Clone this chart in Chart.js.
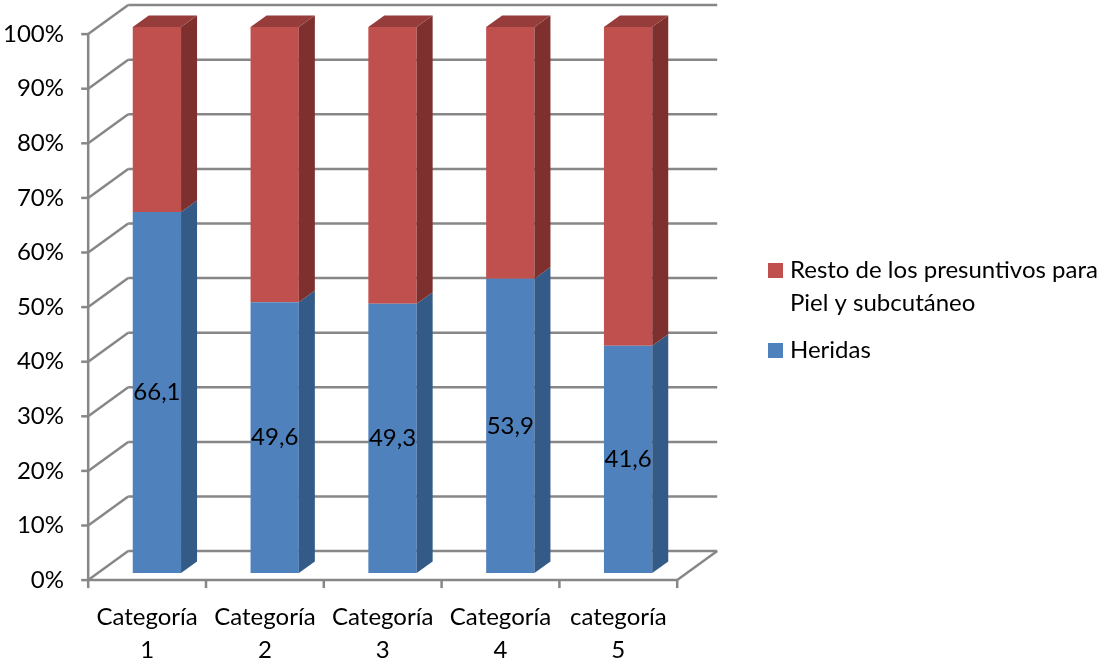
<!DOCTYPE html>
<html>
<head>
<meta charset="utf-8">
<script src="https://cdn.jsdelivr.net/npm/chart.js@4.4.1/dist/chart.umd.min.js"></script>
<style>
  html, body { margin: 0; padding: 0; background: #fff; }
</style>
</head>
<body>
<canvas id="chart" width="1108" height="661"></canvas>
<script>
const categories = [['Categoría', '1'], ['Categoría', '2'], ['Categoría', '3'], ['Categoría', '4'], ['categoría', '5']];
const heridas = [66.1, 49.6, 49.3, 53.9, 41.6];
const resto = [33.9, 50.4, 50.7, 46.1, 58.4];
const legendItems = [
  { lines: ['Resto de los presuntivos para', 'Piel y subcutáneo'], color: '#C0504D' },
  { lines: ['Heridas'], color: '#4F81BD' }
];

const FONT = 'Lato, "Noto Sans", sans-serif';
const FONT_SIZE = 24;
const GRID = '#878787';

// depth of the floor and where the columns sit inside it
const DEPTH = { x: 40, y: -29 };
const FRONT = 0.245;
const BAR_DEPTH = 0.4;
const front = { x: -FRONT * DEPTH.x, y: -FRONT * DEPTH.y };
const back = { x: (1 - FRONT) * DEPTH.x, y: (1 - FRONT) * DEPTH.y };
const barDepth = { x: BAR_DEPTH * DEPTH.x, y: BAR_DEPTH * DEPTH.y };

const sideColors = ['#345A87', '#7D302E'];
const topColor = '#963C3A';

function line(ctx, x1, y1, x2, y2) {
  ctx.beginPath();
  ctx.moveTo(x1, y1);
  ctx.lineTo(x2, y2);
  ctx.stroke();
}

function poly(ctx, pts, color) {
  ctx.beginPath();
  ctx.moveTo(pts[0][0], pts[0][1]);
  for (let i = 1; i < pts.length; i++) ctx.lineTo(pts[i][0], pts[i][1]);
  ctx.closePath();
  ctx.fillStyle = color;
  ctx.fill();
}

// Walls, floor and gridlines behind the columns
const frame3d = {
  id: 'frame3d',
  beforeDatasetsDraw(chart) {
    const { ctx, chartArea } = chart;
    const { left, right } = chartArea;
    const y = chart.scales.y;
    ctx.save();
    ctx.strokeStyle = GRID;
    ctx.lineWidth = 2.5;
    for (let v = 0; v <= 100; v += 10) {
      const p = y.getPixelForValue(v);
      const fx = left + front.x, fy = p + front.y;
      const bx = left + back.x, by = p + back.y;
      line(ctx, fx - 7, fy, fx, fy);
      line(ctx, fx, fy, bx, by);
      line(ctx, bx, by, right + back.x, by);
    }
    const y0 = y.getPixelForValue(0);
    const y100 = y.getPixelForValue(100);
    const fl = left + front.x, fr = right + front.x;
    line(ctx, fl, y100 + front.y, fl, y0 + front.y);
    line(ctx, fl, y0 + front.y, fr, y0 + front.y);
    line(ctx, fr, y0 + front.y, right + back.x, y0 + back.y);
    const step = (right - left) / categories.length;
    for (let i = 0; i <= categories.length; i++) {
      const x = fl + i * step;
      line(ctx, x, y0 + front.y, x, y0 + front.y + 8);
    }
    ctx.restore();
  },
  afterDatasetsDraw(chart) {
    const { ctx } = chart;
    const last = chart.data.datasets.length - 1;
    ctx.save();
    chart.data.datasets.forEach((ds, di) => {
      const meta = chart.getDatasetMeta(di);
      meta.data.forEach((bar) => {
        const { x, y, base, width } = bar.getProps(['x', 'y', 'base', 'width'], true);
        const l = x - width / 2, r = x + width / 2;
        const top = Math.min(y, base), bottom = Math.max(y, base);
        poly(ctx, [[r, top], [r + barDepth.x, top + barDepth.y], [r + barDepth.x, bottom + barDepth.y], [r, bottom]], sideColors[di]);
        if (di === last) {
          poly(ctx, [[l, top], [l + barDepth.x, top + barDepth.y], [r + barDepth.x, top + barDepth.y], [r, top]], topColor);
        }
      });
    });

    // value labels on the Heridas segment
    ctx.font = FONT_SIZE + 'px ' + FONT;
    ctx.fillStyle = '#000';
    ctx.textAlign = 'center';
    ctx.textBaseline = 'middle';
    chart.getDatasetMeta(0).data.forEach((bar, i) => {
      const { x, y, base } = bar.getProps(['x', 'y', 'base'], true);
      ctx.fillText(heridas[i].toFixed(1).replace('.', ','), x, (y + base) / 2);
    });
    ctx.restore();
  },
  afterDraw(chart) {
    const { ctx } = chart;
    ctx.save();
    ctx.font = FONT_SIZE + 'px ' + FONT;
    ctx.textAlign = 'left';
    ctx.textBaseline = 'middle';
    const rows = [[270, 303], [350]];
    legendItems.forEach((item, i) => {
      const ys = rows[i];
      ctx.fillStyle = item.color;
      ctx.fillRect(768, ys[0] - 7, 15, 15);
      ctx.fillStyle = '#000';
      item.lines.forEach((t, j) => ctx.fillText(t, 790, ys[j]));
    });
    ctx.restore();
  }
};

new Chart(document.getElementById('chart'), {
  type: 'bar',
  data: {
    labels: categories,
    datasets: [
      { label: 'Heridas', data: heridas, backgroundColor: '#4F81BD', borderWidth: 0 },
      { label: 'Resto de los presuntivos para Piel y subcutáneo', data: resto, backgroundColor: '#C0504D', borderWidth: 0 }
    ]
  },
  options: {
    responsive: false,
    animation: false,
    devicePixelRatio: 1,
    layout: { padding: { top: 27, right: 421, left: 0, bottom: 0 } },
    datasets: { bar: { barPercentage: 0.41, categoryPercentage: 1 } },
    plugins: { legend: { display: false }, tooltip: { enabled: false } },
    scales: {
      x: {
        stacked: true,
        grid: { display: false, drawTicks: false },
        border: { display: false },
        ticks: {
          color: '#000',
          font: { family: FONT, size: FONT_SIZE, lineHeight: 1.38 },
          padding: 28,
          labelOffset: front.x,
          maxRotation: 0,
          autoSkip: false
        },
        afterFit(scale) { scale.height = 88; }
      },
      y: {
        stacked: true,
        min: 0,
        max: 100,
        grid: { display: false, drawTicks: false },
        border: { display: false },
        ticks: {
          stepSize: 10,
          color: '#000',
          font: { family: FONT, size: FONT_SIZE },
          padding: 34,
          labelOffset: front.y,
          callback: (v) => v + '%'
        },
        afterFit(scale) {
          scale.width = 98;
          scale.paddingTop = 0;
          scale.paddingBottom = 0;
        }
      }
    }
  },
  plugins: [frame3d]
});
</script>
</body>
</html>
